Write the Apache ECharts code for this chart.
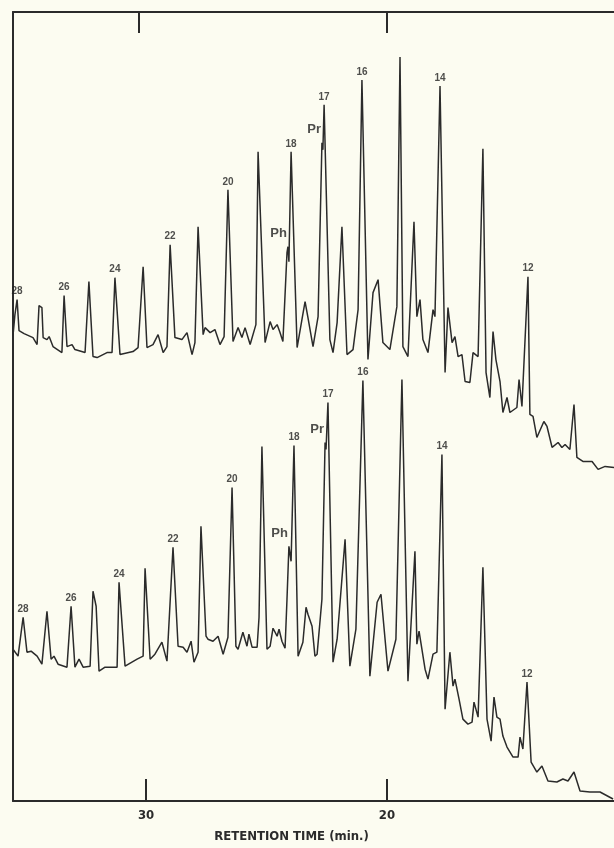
<!DOCTYPE html>
<html>
<head>
<meta charset="utf-8">
<script src="https://cdn.jsdelivr.net/npm/echarts@6/dist/echarts.min.js"></script>
<style>
html,body{margin:0;padding:0;background:#fcfcf1;}
#chart{width:614px;height:848px;}
</style>
</head>
<body>
<div id="chart"></div>
<script>
// Retention time (min) tick labels
const retentionTicks = [30, 20];
const topFrameTicks = [30.3, 20.0];

// Upper chromatogram: retention time (min) and detector response (arbitrary units)
const upperTime = [35.52,35.44,35.35,35.27,35.06,34.69,34.52,34.44,34.40,34.32,34.27,34.11,34.02,33.86,33.49,33.40,33.28,33.07,32.95,32.53,32.37,32.20,32.03,31.62,31.41,31.29,31.08,30.54,30.33,30.12,29.96,29.71,29.50,29.29,29.13,29.00,28.80,28.51,28.30,28.09,27.97,27.84,27.63,27.55,27.34,27.14,26.93,26.76,26.60,26.39,26.18,26.02,25.89,25.68,25.44,25.35,25.06,24.85,24.73,24.56,24.44,24.32,24.15,24.11,24.07,23.98,23.73,23.53,23.40,23.28,23.07,22.86,22.70,22.66,22.61,22.37,22.24,22.07,21.87,21.66,21.41,21.20,21.04,20.79,20.58,20.37,20.17,19.88,19.59,19.46,19.34,19.13,18.88,18.76,18.63,18.51,18.30,18.09,18.01,17.80,17.59,17.47,17.30,17.18,17.05,16.89,16.76,16.56,16.43,16.22,16.02,15.89,15.73,15.60,15.48,15.31,15.19,15.02,14.90,14.61,14.52,14.40,14.15,14.07,13.94,13.78,13.49,13.36,13.15,12.90,12.74,12.61,12.41,12.24,12.12,11.87,11.49,11.24,10.95,10.58];
const upperSignal = [466,487,502,471,468,464,457,496,498,494,464,462,465,455,449,506,455,457,452,449,520,445,444,449,449,524,447,450,454,535,454,457,467,449,455,557,464,462,469,447,459,575,467,474,469,472,457,465,612,460,474,464,474,457,477,650,459,480,472,477,469,460,549,555,540,650,454,482,500,484,455,485,659,652,697,462,449,479,575,447,452,492,722,442,509,522,459,452,495,745,455,445,580,485,502,462,449,492,485,716,429,494,459,465,445,447,420,419,449,445,653,429,404,470,442,420,389,404,389,394,422,395,525,387,385,364,380,375,354,359,354,357,352,397,344,340,340,332,335,334];

// Lower chromatogram
const lowerTime = [35.52,35.31,35.10,34.94,34.77,34.52,34.32,34.11,33.94,33.82,33.65,33.28,33.11,32.95,32.78,32.61,32.32,32.20,32.07,31.95,31.70,31.20,31.12,30.87,30.37,30.12,30.04,29.83,29.63,29.34,29.13,28.88,28.67,28.46,28.30,28.13,28.01,27.84,27.72,27.51,27.43,27.22,27.01,26.80,26.60,26.43,26.27,26.18,25.98,25.81,25.73,25.60,25.39,25.31,25.19,24.98,24.85,24.73,24.56,24.48,24.36,24.23,24.15,24.07,23.98,23.86,23.69,23.49,23.36,23.28,23.11,22.99,22.90,22.70,22.57,22.53,22.45,22.24,22.07,21.74,21.54,21.29,21.00,20.71,20.41,20.25,19.96,19.63,19.38,19.13,18.84,18.76,18.67,18.42,18.30,18.09,17.93,17.72,17.59,17.39,17.26,17.18,17.01,16.85,16.64,16.47,16.39,16.22,16.02,15.85,15.68,15.56,15.44,15.31,15.19,15.02,14.77,14.56,14.48,14.36,14.19,14.02,13.78,13.57,13.32,12.95,12.70,12.49,12.24,11.99,11.58,11.16,10.62];
const lowerSignal = [152,145,184,149,150,145,137,190,142,145,137,134,195,134,142,134,135,210,195,130,134,134,219,135,142,145,233,142,147,159,140,254,155,154,149,160,139,149,275,165,162,160,165,147,164,314,155,152,169,155,167,154,154,184,355,152,155,173,165,172,160,153,202,255,240,356,145,159,194,187,175,145,147,202,359,352,399,139,162,262,135,172,421,125,199,207,130,162,422,120,250,157,170,132,122,147,149,347,92,149,115,122,102,82,77,79,99,84,234,82,60,104,84,82,65,54,44,44,64,52,119,39,29,35,20,19,22,20,29,10,9,9,2];

// Peak identifications (n-alkane carbon numbers, pristane, phytane)
const peakNames = ['28','26','24','22','20','Ph','18','Pr','17','16','14','12'];
const upperPeakTime = [35.35,33.40,31.29,29.00,26.60,24.11,23.98,22.70,22.61,21.04,17.80,14.15];
const upperPeakSignal = [502,506,524,557,612,555,650,659,697,722,716,525];
const lowerPeakTime = [35.10,33.11,31.12,28.88,26.43,24.07,23.86,22.57,22.45,21.00,17.72,14.19];
const lowerPeakSignal = [184,195,219,254,314,255,356,359,399,421,347,119];

const ink = '#2b2b2b';
const narrow = "'Liberation Sans Narrow','DejaVu Sans Condensed','Liberation Sans',sans-serif";

function pairs(t, s) { return t.map((v, i) => [v, s[i]]); }
function labelData(t, s) {
  return peakNames.map((n, i) => {
    const abbrev = n === 'Ph' || n === 'Pr';
    const item = { name: n, value: [t[i], s[i]] };
    if (abbrev) {
      item.label = { position: 'left', distance: 1, offset: [0, -13], fontSize: 13, fontWeight: 'bold' };
    }
    return item;
  });
}

const chart = echarts.init(document.getElementById('chart'), null, { renderer: 'canvas' });
const xCommon = { type: 'value', min: 10.58, max: 35.52, inverse: true, splitLine: { show: false } };
chart.setOption({
  backgroundColor: '#fcfcf1',
  animation: false,
  grid: { left: 13, right: 0, top: 12, bottom: 46 },
  xAxis: [
    Object.assign({}, xCommon, {
      position: 'bottom',
      axisLine: { show: true, onZero: false, lineStyle: { color: ink, width: 2 } },
      axisTick: { show: true, inside: true, length: 22, customValues: retentionTicks, lineStyle: { color: ink, width: 2 } },
      axisLabel: { show: true, customValues: retentionTicks, margin: 8, color: ink, fontSize: 13, fontWeight: 'bold', fontFamily: narrow },
      name: 'RETENTION TIME (min.)',
      nameLocation: 'middle',
      nameGap: 29,
      nameTextStyle: { color: ink, fontSize: 13, fontWeight: 'bold', fontFamily: narrow, padding: [0, 44, 0, 0] }
    }),
    Object.assign({}, xCommon, {
      position: 'top',
      axisLine: { show: true, onZero: false, lineStyle: { color: ink, width: 2 } },
      axisTick: { show: true, inside: true, length: 21, customValues: topFrameTicks, lineStyle: { color: ink, width: 2 } },
      axisLabel: { show: false }
    })
  ],
  yAxis: {
    type: 'value', min: 0, max: 790,
    axisLine: { show: true, onZero: false, lineStyle: { color: ink, width: 2 } },
    axisTick: { show: false }, axisLabel: { show: false }, splitLine: { show: false }
  },
  series: [
    { type: 'line', data: pairs(upperTime, upperSignal), symbol: 'none', lineStyle: { color: ink, width: 1.5 } },
    { type: 'line', data: pairs(lowerTime, lowerSignal), symbol: 'none', lineStyle: { color: ink, width: 1.5 } },
    {
      type: 'scatter', symbolSize: 0, data: labelData(upperPeakTime, upperPeakSignal),
      label: { show: true, position: 'top', distance: 3, formatter: '{b}', color: '#222', fontSize: 10, fontWeight: 'bold', fontFamily: "'Liberation Sans',sans-serif" }
    },
    {
      type: 'scatter', symbolSize: 0, data: labelData(lowerPeakTime, lowerPeakSignal),
      label: { show: true, position: 'top', distance: 3, formatter: '{b}', color: '#222', fontSize: 10, fontWeight: 'bold', fontFamily: "'Liberation Sans',sans-serif" }
    }
  ]
});
</script>
</body>
</html>
